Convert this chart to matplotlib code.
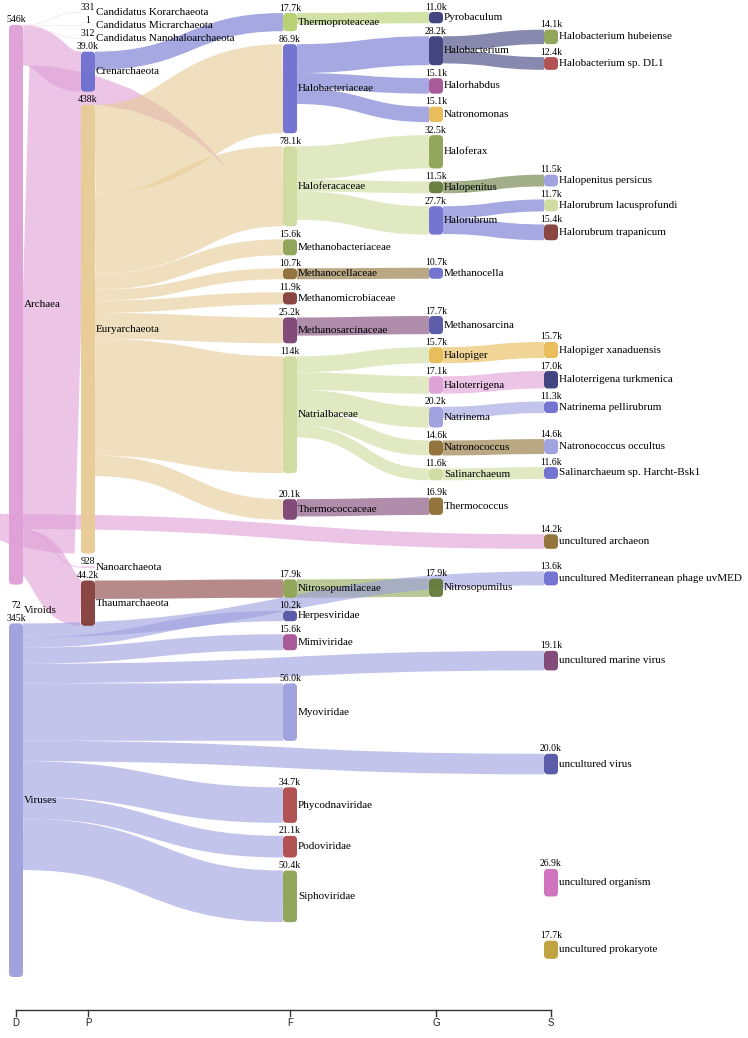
import matplotlib
matplotlib.use("Agg")
import matplotlib.pyplot as plt
from matplotlib.patches import FancyBboxPatch, PathPatch
from matplotlib.path import Path

# ---------------------------------------------------------------
#  Data (read counts per taxon, parent = node feeding the link)
# ---------------------------------------------------------------
D_NAMES = ["Archaea", "Viroids", "Viruses"]
D_VALUES = [546000, 72, 345000]
D_PARENTS = [None, None, None]

P_NAMES = ["Candidatus Korarchaeota", "Candidatus Micrarchaeota",
           "Candidatus Nanohaloarchaeota", "Crenarchaeota", "Euryarchaeota",
           "Nanoarchaeota", "Thaumarchaeota"]
P_VALUES = [331, 1, 312, 39000, 438000, 928, 44200]
P_PARENTS = ["Archaea"] * 7

F_NAMES = ["Thermoproteaceae", "Halobacteriaceae", "Haloferacaceae",
           "Methanobacteriaceae", "Methanocellaceae", "Methanomicrobiaceae",
           "Methanosarcinaceae", "Natrialbaceae", "Thermococcaceae",
           "Nitrosopumilaceae", "Herpesviridae", "Mimiviridae", "Myoviridae",
           "Phycodnaviridae", "Podoviridae", "Siphoviridae"]
F_VALUES = [17700, 86900, 78100, 15600, 10700, 11900, 25200, 114000, 20100,
            17900, 10200, 15600, 56000, 34700, 21100, 50400]
F_PARENTS = (["Crenarchaeota"] + ["Euryarchaeota"] * 8 + ["Thaumarchaeota"]
             + ["Viruses"] * 6)

G_NAMES = ["Pyrobaculum", "Halobacterium", "Halorhabdus", "Natronomonas",
           "Haloferax", "Halopenitus", "Halorubrum", "Methanocella",
           "Methanosarcina", "Halopiger", "Haloterrigena", "Natrinema",
           "Natronococcus", "Salinarchaeum", "Thermococcus", "Nitrosopumilus"]
G_VALUES = [11000, 28200, 15100, 15100, 32500, 11500, 27700, 10700, 17700,
            15700, 17100, 20200, 14600, 11600, 16900, 17900]
G_PARENTS = ["Thermoproteaceae", "Halobacteriaceae", "Halobacteriaceae",
             "Halobacteriaceae", "Haloferacaceae", "Haloferacaceae",
             "Haloferacaceae", "Methanocellaceae", "Methanosarcinaceae",
             "Natrialbaceae", "Natrialbaceae", "Natrialbaceae", "Natrialbaceae",
             "Natrialbaceae", "Thermococcaceae", "Nitrosopumilaceae"]

S_NAMES = ["Halobacterium hubeiense", "Halobacterium sp. DL1",
           "Halopenitus persicus", "Halorubrum lacusprofundi",
           "Halorubrum trapanicum", "Halopiger xanaduensis",
           "Haloterrigena turkmenica", "Natrinema pellirubrum",
           "Natronococcus occultus", "Salinarchaeum sp. Harcht-Bsk1",
           "uncultured archaeon", "uncultured Mediterranean phage uvMED",
           "uncultured marine virus", "uncultured virus",
           "uncultured organism", "uncultured prokaryote"]
S_VALUES = [14100, 12400, 11500, 11700, 15400, 15700, 17000, 11300, 14600,
            11600, 14200, 13600, 19100, 20000, 26900, 17700]
S_PARENTS = ["Halobacterium", "Halobacterium", "Halopenitus", "Halorubrum",
             "Halorubrum", "Halopiger", "Haloterrigena", "Natrinema",
             "Natronococcus", "Salinarchaeum", "Archaea", "Viruses", "Viruses",
             "Viruses", None, None]

LEVELS = ["D", "P", "F", "G", "S"]
COLUMNS = {
    "D": (D_NAMES, D_VALUES, D_PARENTS),
    "P": (P_NAMES, P_VALUES, P_PARENTS),
    "F": (F_NAMES, F_VALUES, F_PARENTS),
    "G": (G_NAMES, G_VALUES, G_PARENTS),
    "S": (S_NAMES, S_VALUES, S_PARENTS),
}

# node colours (category20b style)
COLORS = {
    "Archaea": "#de9ed6", "Viroids": "#9c9ede", "Viruses": "#9c9ede",
    "Candidatus Korarchaeota": "#9c9ede", "Candidatus Micrarchaeota": "#e7ba52",
    "Candidatus Nanohaloarchaeota": "#ce6dbd", "Crenarchaeota": "#6b6ecf",
    "Euryarchaeota": "#e7cb94", "Nanoarchaeota": "#de9ed6",
    "Thaumarchaeota": "#843c39",
    "Thermoproteaceae": "#b5cf6b", "Halobacteriaceae": "#6b6ecf",
    "Haloferacaceae": "#cedb9c", "Methanobacteriaceae": "#8ca252",
    "Methanocellaceae": "#8c6d31", "Methanomicrobiaceae": "#843c39",
    "Methanosarcinaceae": "#7b4173", "Natrialbaceae": "#cedb9c",
    "Thermococcaceae": "#7b4173", "Nitrosopumilaceae": "#8ca252",
    "Herpesviridae": "#5254a3", "Mimiviridae": "#a55194",
    "Myoviridae": "#9c9ede", "Phycodnaviridae": "#ad494a",
    "Podoviridae": "#ad494a", "Siphoviridae": "#8ca252",
    "Pyrobaculum": "#393b79", "Halobacterium": "#393b79",
    "Halorhabdus": "#a55194", "Natronomonas": "#e7ba52",
    "Haloferax": "#8ca252", "Halopenitus": "#637939",
    "Halorubrum": "#6b6ecf", "Methanocella": "#6b6ecf",
    "Methanosarcina": "#5254a3", "Halopiger": "#e7ba52",
    "Haloterrigena": "#de9ed6", "Natrinema": "#9c9ede",
    "Natronococcus": "#8c6d31", "Salinarchaeum": "#cedb9c",
    "Thermococcus": "#8c6d31", "Nitrosopumilus": "#637939",
    "Halobacterium hubeiense": "#8ca252", "Halobacterium sp. DL1": "#ad494a",
    "Halopenitus persicus": "#9c9ede", "Halorubrum lacusprofundi": "#cedb9c",
    "Halorubrum trapanicum": "#843c39", "Halopiger xanaduensis": "#e7ba52",
    "Haloterrigena turkmenica": "#393b79", "Natrinema pellirubrum": "#6b6ecf",
    "Natronococcus occultus": "#9c9ede",
    "Salinarchaeum sp. Harcht-Bsk1": "#6b6ecf",
    "uncultured archaeon": "#8c6d31",
    "uncultured Mediterranean phage uvMED": "#6b6ecf",
    "uncultured marine virus": "#7b4173", "uncultured virus": "#5254a3",
    "uncultured organism": "#ce6dbd", "uncultured prokaryote": "#bd9e39",
}

# ---------------------------------------------------------------
#  Layout (pixel coordinates, y downward) - d3-sankey style
# ---------------------------------------------------------------
W, H = 748, 1038
COL_X = {"D": 16, "P": 88, "F": 290, "G": 436, "S": 551}   # column centres
NODE_W = 14
TOP, BOTTOM = 12, 990
KY = 1.025 / 1000      # pixels per read
PY = 13
ITER = 32

nodes = {}
for li, lev in enumerate(LEVELS):
    for name, val, par in zip(*COLUMNS[lev]):
        nodes[name] = dict(name=name, layer=li, value=val, parent=par,
                           x=COL_X[lev] - NODE_W / 2, src=[], tgt=[])
links = []
for n in nodes.values():
    if n["parent"] is not None:
        lk = dict(s=nodes[n["parent"]], t=n, value=n["value"], idx=len(links))
        links.append(lk)
        nodes[n["parent"]]["src"].append(lk)
        n["tgt"].append(lk)

cols = [[nodes[nm] for nm in COLUMNS[lev][0]] for lev in LEVELS]
for lk in links:
    lk["w"] = lk["value"] * KY

for c in cols:
    y = TOP
    for n in c:
        n["y0"] = y
        n["y1"] = y + n["value"] * KY
        y = n["y1"] + PY
    extra = max(0, (BOTTOM - y + PY) / (len(c) + 1))
    for i, n in enumerate(c):
        n["y0"] += extra * (i + 1)
        n["y1"] += extra * (i + 1)


def sort_links(n):
    n["src"].sort(key=lambda lk: (lk["t"]["y0"], lk["idx"]))
    n["tgt"].sort(key=lambda lk: (lk["s"]["y0"], lk["idx"]))


def reorder(n):
    for lk in n["tgt"]:
        sort_links(lk["s"])
    for lk in n["src"]:
        sort_links(lk["t"])


for n in nodes.values():
    sort_links(n)


def shift(n, d):
    n["y0"] += d
    n["y1"] += d


def target_top(s, t):
    y = s["y0"] - (len(s["src"]) - 1) * PY / 2
    for lk in s["src"]:
        if lk["t"] is t:
            break
        y += lk["w"] + PY
    for lk in t["tgt"]:
        if lk["s"] is s:
            break
        y -= lk["w"]
    return y


def source_top(s, t):
    y = t["y0"] - (len(t["tgt"]) - 1) * PY / 2
    for lk in t["tgt"]:
        if lk["s"] is s:
            break
        y += lk["w"] + PY
    for lk in s["src"]:
        if lk["t"] is t:
            break
        y -= lk["w"]
    return y


def push_down(c, y, i, a):
    for n in c[i:]:
        d = (y - n["y0"]) * a
        if d > 1e-6:
            shift(n, d)
        y = n["y1"] + PY


def push_up(c, y, i, a):
    for k in range(i, -1, -1):
        n = c[k]
        d = (n["y1"] + PY - y) * a
        if d > 1e-6:
            shift(n, -d)
        y = n["y0"]


def resolve(c, a):
    i = len(c) >> 1
    push_up(c, c[i]["y0"] - PY, i - 1, a)
    push_down(c, c[i]["y1"] + PY, i + 1, a)
    push_up(c, BOTTOM, len(c) - 1, a)
    push_down(c, TOP, 0, a)


for it in range(ITER):
    alpha = 0.99 ** it
    beta = max(1 - alpha, (it + 1) / ITER)
    for c in cols[-2::-1]:
        for n in c:
            if n["src"]:
                y = w = 0
                for lk in n["src"]:
                    v = lk["value"] * (lk["t"]["layer"] - n["layer"])
                    y += source_top(n, lk["t"]) * v
                    w += v
                shift(n, (y / w - n["y0"]) * alpha)
                reorder(n)
        resolve(c, beta)
    for c in cols[1:]:
        for n in c:
            if n["tgt"]:
                y = w = 0
                for lk in n["tgt"]:
                    v = lk["value"] * (n["layer"] - lk["s"]["layer"])
                    y += target_top(lk["s"], n) * v
                    w += v
                shift(n, (y / w - n["y0"]) * alpha)
                reorder(n)
        resolve(c, beta)

for n in nodes.values():
    sort_links(n)
    y0 = y1 = n["y0"]
    for lk in n["src"]:
        lk["ys"] = y0 + lk["w"] / 2
        y0 += lk["w"]
    for lk in n["tgt"]:
        lk["yt"] = y1 + lk["w"] / 2
        y1 += lk["w"]

# ---------------------------------------------------------------
#  Drawing
# ---------------------------------------------------------------
fig = plt.figure(figsize=(W / 100, H / 100), dpi=100)
ax = fig.add_axes([0, 0, 1, 1])
ax.set_xlim(0, W)
ax.set_ylim(H, 0)
ax.axis("off")
PX = 72 / 100   # points per pixel

for lk in links:
    s, t = lk["s"], lk["t"]
    x0 = s["x"] + NODE_W
    x1 = t["x"]
    xm = (x0 + x1) / 2
    path = Path([(x0, lk["ys"]), (xm, lk["ys"]), (xm, lk["yt"]), (x1, lk["yt"])],
                [Path.MOVETO, Path.CURVE4, Path.CURVE4, Path.CURVE4])
    ax.add_patch(PathPatch(path, fill=False, edgecolor=COLORS[s["name"]],
                           alpha=0.6, lw=max(lk["w"], 0.3) * PX,
                           capstyle="butt", zorder=1))


def fmt(v):
    if v >= 100000:
        return f"{v / 1000:.0f}k"
    if v >= 1000:
        return f"{v / 1000:.1f}k"
    return f"{v}"


SERIF = ["Liberation Serif", "DejaVu Serif"]
for n in nodes.values():
    h = n["y1"] - n["y0"]
    r = min(4, h / 2, NODE_W / 2)
    if h > 0.5:
        ax.add_patch(FancyBboxPatch((n["x"], n["y0"]), NODE_W, h,
                                    boxstyle=f"round,pad=0,rounding_size={r}",
                                    fc=COLORS[n["name"]], ec="none",
                                    alpha=0.95, zorder=2))
    ax.text(n["x"] + NODE_W / 2, n["y0"] - 0.5, fmt(n["value"]),
            ha="center", va="bottom", fontsize=7, family=SERIF, zorder=3)
    ax.text(n["x"] + NODE_W + 1, (n["y0"] + n["y1"]) / 2, n["name"],
            ha="left", va="center", fontsize=8, family=SERIF, zorder=3)

# level axis
AXIS_Y = 1010
xs = [COL_X[l] for l in LEVELS]
ax.plot([xs[0], xs[-1]], [AXIS_Y, AXIS_Y], color="#333333", lw=1)
for l, x in zip(LEVELS, xs):
    ax.plot([x, x], [AXIS_Y, AXIS_Y + 6], color="#333333", lw=1)
    ax.text(x, AXIS_Y + 8, l, ha="center", va="top", fontsize=7,
            family=["Liberation Sans", "DejaVu Sans"], color="#222222")

fig.savefig("out.png", dpi=100)
